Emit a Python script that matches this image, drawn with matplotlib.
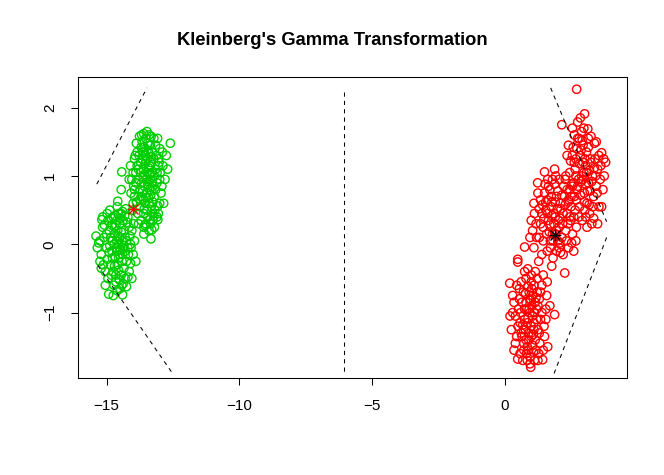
import matplotlib
matplotlib.use("Agg")
import matplotlib.pyplot as plt

# Points, one pair of lists per cluster
green_upper_x = [
    -13.50, -13.62, -13.38, -13.45, -13.70, -13.30, -13.55, -13.25, -13.65, -13.40,
    -13.58, -13.35, -13.80, -13.20, -13.48, -13.72, -13.28, -13.60, -13.42, -13.52,
    -13.66, -13.15, -13.85, -13.32, -13.95, -13.10, -13.75, -13.22, -13.55, -13.45,
    -13.90, -13.05, -13.60, -13.40, -13.68, -13.35, -13.50, -13.62, -13.42, -13.30,
    -13.78, -13.18, -13.88, -13.12, -13.52, -13.70, -13.25, -13.00, -14.05, -13.95,
    -13.35, -13.58, -12.88, -12.60, -13.15, -13.82, -13.40, -13.60, -13.00, -13.10,
    -14.00, -13.45, -13.55, -13.36, -13.64, -13.48, -13.72, -13.26, -13.22, -13.76,
    -14.43, -14.45, -13.33, -13.30, -13.56, -13.37, -13.07, -13.22, -13.07,
    -13.44, -13.56, -13.38, -13.62, -13.28, -13.74, -13.48, -13.52, -13.34, -13.66,
    -13.20, -13.80, -13.46, -13.58, -13.30, -13.70, -13.40, -13.62, -13.10, -13.90,
    -13.25, -13.52, -13.42, -13.75, -13.15, -13.05, -13.85, -13.60, -13.35, -12.95,
    -13.95, -13.48, -13.32, -13.68, -13.00, -12.80, -13.20, -13.80, -12.75, -14.10,
    -14.00, -13.98, -14.08, -13.92, -14.02, -12.98, -12.92, -13.02, -12.85, -12.90,
    -13.05, -13.88, -12.70, -13.08, -14.15,
]
green_upper_y = [
    0.95, 1.10, 0.80, 1.25, 0.70, 1.05, 0.60, 0.85, 1.35, 1.45,
    0.85, 1.20, 0.95, 0.70, 1.05, 1.20, 1.35, 0.45, 0.68, 1.55,
    1.50, 1.10, 1.15, 0.55, 0.80, 0.90, 0.55, 1.25, 1.30, 0.40,
    1.05, 1.15, 1.62, 1.60, 0.90, 0.95, 0.75, 0.98, 1.12, 0.78,
    1.30, 0.50, 0.62, 1.30, 0.30, 0.35, 0.35, 0.95, 0.95, 1.25,
    1.45, 1.42, 1.15, 1.48, 1.45, 0.45, 0.20, 0.15, 0.60, 0.40,
    0.60, 0.88, 1.18, 1.02, 0.78, 1.38, 1.05, 0.62, 1.55, 1.58,
    1.06, 0.80, 0.08, 0.21, 0.28, 0.36, 0.36, 0.41, 0.56,
    0.92, 1.02, 1.15, 0.65, 0.92, 0.80, 0.50, 1.22, 0.72, 1.25,
    1.00, 1.10, 1.48, 0.52, 1.28, 1.42, 0.60, 1.35, 1.05, 0.90,
    0.45, 0.68, 1.35, 0.65, 0.80, 1.25, 1.35, 0.25, 0.30, 0.75,
    0.70, 1.65, 1.58, 1.60, 1.40, 0.95, 0.25, 0.30, 1.30, 1.15,
    1.05, 0.85, 0.75, 1.30, 0.50, 1.05, 0.85, 1.20, 0.60, 1.35,
    0.45, 1.48, 1.10, 1.55, 0.95,
]

green_lower_x = [
    -14.55, -14.70, -14.40, -14.60, -14.80, -14.30, -14.50, -14.65, -14.90, -14.20,
    -14.45, -14.75, -14.35, -15.00, -14.15, -14.62, -14.48, -14.85, -14.25, -15.10,
    -14.58, -14.42, -14.68, -14.52, -14.95, -14.10, -15.20, -14.38, -14.72, -14.30,
    -15.30, -14.60, -14.88, -14.05, -14.50, -14.92, -14.43, -14.40, -14.58, -15.18,
    -15.35, -14.20, -14.00, -15.05, -14.78, -14.35, -14.65, -14.55, -14.82, -14.15,
    -15.15, -14.28, -14.70, -14.45, -14.62, -14.98, -14.25, -14.80, -14.10, -15.25,
    -14.50, -14.62, -14.42, -14.70, -14.35, -14.78, -14.55, -14.48, -14.85, -14.25,
    -14.65, -14.40, -14.90, -14.18, -14.58, -14.45, -14.75, -14.30, -15.00, -14.12,
    -14.68, -14.52, -14.95, -14.22, -14.82, -14.38, -15.08, -14.60, -14.08, -15.12,
    -14.72, -14.40, -14.88, -14.32, -14.55, -14.20, -14.98, -14.75, -15.40, -14.62,
    -15.25, -15.20, -15.15, -13.95, -13.90, -13.98, -14.05, -15.05,
]
green_lower_y = [
    0.00, 0.15, -0.15, -0.30, -0.10, 0.10, 0.30, -0.45, 0.20, -0.05,
    0.45, 0.40, -0.35, -0.05, 0.25, 0.05, -0.08, -0.30, -0.25, 0.10,
    0.20, 0.05, -0.18, -0.52, 0.35, 0.00, -0.15, 0.35, -0.60, -0.50,
    0.02, 0.55, 0.50, 0.20, -0.65, -0.73, -0.60, -0.74, 0.63, 0.36,
    -0.05, 0.40, -0.15, -0.40, 0.05, -0.02, 0.28, -0.20, -0.45, -0.40,
    0.25, 0.52, -0.32, 0.18, -0.10, -0.22, -0.62, 0.28, -0.28, -0.25,
    0.10, -0.05, -0.25, 0.25, 0.20, -0.20, -0.38, 0.38, 0.10, 0.05,
    -0.55, 0.48, -0.12, -0.15, 0.12, -0.45, -0.40, -0.10, 0.15, 0.12,
    0.42, -0.15, -0.50, 0.32, 0.38, -0.58, 0.28, -0.68, -0.05, -0.30,
    0.00, -0.05, -0.02, 0.42, 0.45, -0.48, 0.45, -0.75, 0.12, 0.35,
    0.05, -0.35, 0.40, 0.05, -0.25, 0.30, -0.50, -0.60,
]

red_lower_x = [
    0.95, 0.80, 1.10, 0.90, 1.05, 0.75, 1.20, 0.85, 1.15, 0.70,
    1.00, 1.25, 0.60, 1.30, 0.95, 0.65, 1.10, 0.80, 1.35, 0.55,
    1.00, 0.88, 1.02, 0.92, 1.12, 0.78, 1.18, 0.72, 1.40, 0.50,
    0.49, 0.19, 0.87, 1.28, 1.77, 2.26, 0.98, 0.49, 1.43, 1.88,
    0.30, 0.40, 1.50, 1.45, 0.62, 0.85, 1.25, 0.45, 1.08, 0.98,
    0.82, 1.22, 0.68, 1.05, 1.32, 0.58, 1.55, 0.35, 1.15, 0.90,
    0.92, 1.05, 0.85, 1.15, 0.75, 1.00, 0.88, 1.20, 0.70, 1.10,
    0.95, 0.80, 1.25, 0.65, 1.08, 0.90, 1.30, 0.58, 1.02, 0.78,
    1.18, 0.72, 1.35, 0.62, 1.12, 0.95, 0.82, 1.40, 0.52, 1.00,
    0.75, 1.22, 0.55, 1.28, 0.68, 1.48, 0.45, 1.58, 0.40, 1.62,
    0.30, 0.25, 1.55, 1.60, 0.35, 1.45, 0.20, 1.70,
]
red_lower_y = [
    -1.00, -0.85, -1.15, -1.30, -0.75, -1.10, -0.95, -1.50, -1.40, -0.70,
    -0.55, -1.25, -1.00, -0.80, -1.65, -1.35, -0.60, -0.50, -1.10, -0.80,
    -1.20, -1.08, -0.90, -0.70, -1.00, -1.25, -1.55, -1.55, -0.60, -1.20,
    -0.26, -0.57, -0.36, -0.25, -0.32, -0.42, -1.80, -1.68, -1.69, -1.03,
    -1.00, -1.45, -1.35, -0.45, -0.55, -1.70, -1.70, -0.60, -1.32, -0.82,
    -0.95, -0.70, -1.18, -1.48, -1.45, -1.60, -0.95, -0.85, -0.40, -1.40,
    -0.95, -1.05, -1.15, -0.85, -0.95, -1.35, -0.62, -1.10, -1.25, -1.25,
    -0.80, -1.40, -0.90, -0.85, -1.58, -1.55, -1.30, -1.15, -0.65, -0.72,
    -0.78, -1.45, -0.70, -1.30, -1.70, -1.75, -1.60, -1.00, -0.95, -0.45,
    -0.40, -0.50, -0.65, -1.60, -1.70, -1.20, -1.35, -0.75, -1.05, -1.50,
    -0.75, -1.25, -1.10, -0.55, -1.55, -1.55, -1.05, -0.90,
]

red_middle_x = [
    1.90, 1.75, 2.05, 1.80, 2.10, 1.65, 2.20, 1.95, 1.70, 2.00,
    1.55, 2.30, 1.85, 1.98, 2.15, 1.60, 2.25, 1.45, 1.88, 2.05,
    1.72, 1.50, 2.35, 1.40, 1.24, 1.50, 0.75, 1.10, 0.49, 1.30,
    1.60, 2.40, 2.20, 1.35, 1.92, 2.50, 2.55, 1.78, 2.08, 1.68,
    1.18, 1.82, 2.45, 1.95, 1.62, 2.28, 0.95, 1.05, 2.60, 1.40,
    1.85, 2.02, 1.78, 2.12, 1.70, 1.92, 2.18, 1.62, 2.00, 1.82,
    2.28, 1.55, 2.08, 1.75, 2.22, 1.48, 1.90, 2.38, 1.65, 1.95,
    1.42, 2.32, 1.58, 2.15, 1.80, 2.42, 1.35, 1.52, 2.48, 2.10,
    1.30, 1.72, 2.60, 1.12, 1.88, 2.05, 1.45, 2.52, 1.25, 2.70,
    1.00, 1.10, 2.62, 2.68, 1.20, 2.55,
]
red_middle_y = [
    0.40, 0.55, 0.25, 0.15, 0.60, 0.35, 0.45, 0.70, 0.80, 0.05,
    0.50, 0.20, 0.30, 0.52, 0.10, 0.65, 0.70, 0.25, 0.88, -0.05,
    0.05, 0.75, 0.45, 0.45, 0.90, 1.06, -0.04, -0.05, -0.22, 0.10,
    -0.10, -0.05, -0.15, 0.65, 1.00, 0.55, 0.15, 0.42, 0.38, 0.18,
    0.30, -0.20, 0.80, 0.20, 0.95, 0.95, 0.10, 0.20, -0.10, -0.15,
    0.45, 0.35, 0.62, 0.52, 0.28, 0.15, 0.30, 0.45, 0.78, 0.05,
    0.58, 0.62, 0.02, 0.70, 0.85, 0.38, 0.62, 0.30, 0.85, -0.10,
    0.58, 0.05, 0.15, 0.72, 0.95, 0.65, 0.30, 0.88, 0.35, -0.12,
    0.52, -0.05, 0.40, 0.45, 1.10, 0.95, 0.05, 0.02, 0.75, 0.25,
    0.35, 0.60, 0.70, 0.05, 0.10, 0.85,
]

red_upper_x = [
    2.90, 3.05, 2.75, 3.15, 2.85, 3.00, 2.65, 3.25, 2.95, 3.10,
    2.70, 3.30, 2.80, 3.20, 2.60, 3.35, 2.98, 3.08, 2.88, 3.18,
    2.72, 3.40, 2.55, 3.45, 2.50, 3.02, 2.92, 3.28, 3.50, 2.45,
    2.71, 3.01, 2.15, 3.13, 2.75, 3.73, 3.65, 2.90, 3.15, 2.40,
    3.55, 2.35, 3.60, 2.62, 3.38, 2.82, 3.22, 2.68, 3.05, 2.95,
    2.95, 3.08, 2.82, 3.12, 2.78, 3.22, 2.88, 3.00, 2.68, 3.28,
    2.92, 3.18, 2.62, 3.38, 2.85, 3.02, 2.72, 3.32, 2.58, 3.42,
    2.98, 3.15, 2.75, 3.48, 2.52, 3.05, 2.80, 3.25, 2.48, 3.55,
    3.62, 3.70, 2.40, 3.10, 2.65, 3.45, 2.85, 3.80, 3.35, 2.55,
    2.30, 2.35, 3.65, 3.75, 2.45, 3.50,
]
red_upper_y = [
    1.00, 1.15, 0.85, 0.90, 1.30, 0.75, 1.10, 1.20, 1.45, 0.60,
    0.65, 1.00, 1.55, 0.45, 0.90, 0.70, 1.05, 1.35, 0.92, 1.08,
    1.40, 1.25, 1.30, 0.85, 0.70, 0.50, 0.35, 0.30, 1.10, 1.05,
    2.27, 1.91, 1.75, 1.69, 1.79, 1.25, 1.34, 1.65, 1.55, 1.45,
    0.55, 0.80, 0.95, 1.60, 1.48, 0.55, 0.78, 1.25, 0.88, 1.20,
    0.95, 1.05, 1.18, 0.78, 0.95, 1.25, 1.38, 0.62, 1.00, 0.92,
    1.52, 0.58, 1.20, 1.12, 0.72, 1.25, 0.80, 0.55, 1.42, 1.00,
    1.70, 1.42, 1.55, 0.75, 0.88, 0.40, 0.40, 1.58, 1.22, 1.30,
    1.15, 0.80, 0.62, 0.25, 0.50, 1.50, 1.85, 1.20, 0.38, 1.70,
    1.00, 1.30, 0.55, 1.00, 0.40, 0.30,
]

# group centres (asterisks)
green_center = (-14.02, 0.51)
red_center = (1.88, 0.14)

# dashed boundary segments: (x0, y0, x1, y1)
segments = [
    (-15.37, 0.88, -13.48, 2.29),
    (-15.33, -0.31, -12.50, -1.90),
    (-6.06, 2.23, -6.06, -1.90),
    (1.73, 2.29, 3.84, 0.33),
    (3.84, 0.10, 1.85, -1.90),
]

plt.rcParams['font.family'] = ['Liberation Sans', 'DejaVu Sans']

fig = plt.figure(figsize=(6.64, 4.75), dpi=100)
ax = fig.add_axes([0.117, 0.2036, 0.827, 0.6337])

for xs, ys in [(green_upper_x, green_upper_y), (green_lower_x, green_lower_y)]:
    ax.scatter(xs, ys, s=36, facecolors='none', edgecolors='#00CD00', linewidths=1.0)
for xs, ys in [(red_lower_x, red_lower_y), (red_middle_x, red_middle_y),
               (red_upper_x, red_upper_y)]:
    ax.scatter(xs, ys, s=36, facecolors='none', edgecolors='#FF0000', linewidths=1.0)

for x0, y0, x1, y1 in segments:
    ax.plot([x0, x1], [y0, y1], color='black', lw=0.75, ls=(0, (4, 4)))

for (cx, cy), col in [(green_center, 'red'), (red_center, 'black')]:
    ax.plot(cx, cy, marker='+', ms=9, mew=1.0, color=col)
    ax.plot(cx, cy, marker='x', ms=6.5, mew=1.0, color=col)

ax.set_xlim(-16.09, 4.6)
ax.set_ylim(-1.962, 2.445)
ax.set_xticks([-15, -10, -5, 0])
ax.set_xticklabels(['\u221215', '\u221210', '\u22125', '0'])
ax.set_yticks([-1, 0, 1, 2])
ax.set_yticklabels(['\u22121', '0', '1', '2'], rotation=90, va='center')
ax.tick_params(direction='out', length=5, width=0.75, labelsize=11, pad=10)
for sp in ax.spines.values():
    sp.set_linewidth(0.75)

fig.text(0.5, 0.914, "Kleinberg's Gamma Transformation", ha='center', va='center',
         fontsize=13.2, fontweight='bold')

fig.savefig("out.png", dpi=100)
